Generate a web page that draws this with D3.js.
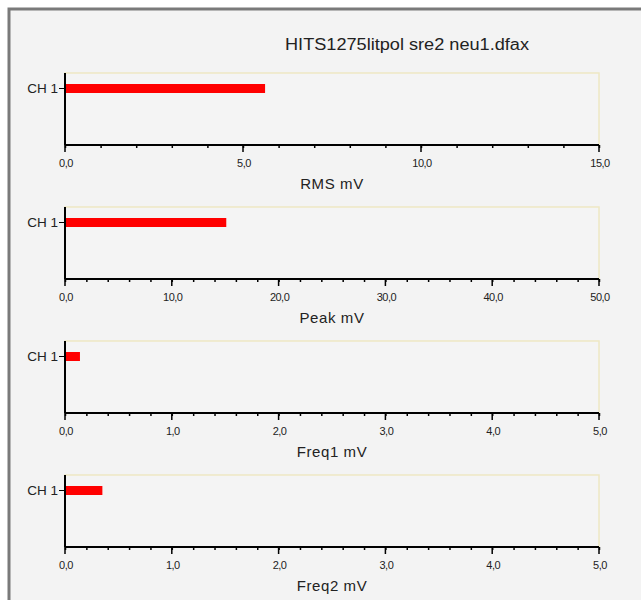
<!DOCTYPE html>
<html><head><meta charset="utf-8">
<script src="https://cdn.jsdelivr.net/npm/d3@7"></script>
<style>body{margin:0;background:#fff}svg{display:block}</style>
</head><body>
<script>
const title = "HITS1275litpol sre2 neu1.dfax";
const categories = ["CH 1"];
const metrics = ["RMS mV", "Peak mV", "Freq1 mV", "Freq2 mV"];
const values = [5.62, 15.1, 0.14, 0.35];
const maxima = [15, 50, 5, 5];
const majorSteps = [5, 10, 1, 1];
const minorSteps = [1, 2, 0.2, 0.2];

const W = 641, H = 600;
const FONT = "Liberation Sans, Arial, sans-serif";
const svg = d3.select("body").append("svg").attr("width", W).attr("height", H);
svg.append("rect").attr("width", W).attr("height", H).attr("fill", "#ffffff");
svg.append("rect").attr("x", 9).attr("y", 9).attr("width", W + 10).attr("height", H + 10)
  .attr("fill", "#f3f3f3").attr("stroke", "#7a7a7a").attr("stroke-width", 3);

svg.append("text").attr("x", 407).attr("y", 50).attr("text-anchor", "middle")
  .attr("font-family", FONT).attr("font-size", 16)
  .attr("fill", "#222").attr("textLength", 244).attr("lengthAdjust", "spacingAndGlyphs").text(title);

const left = 65, right = 599, plotH = 72, tops = [73, 207, 341, 475];
const fmt = v => d3.format(".1f")(v).replace(".", ",");

metrics.forEach((m, i) => {
  const top = tops[i];
  const g = svg.append("g");
  const x = d3.scaleLinear().domain([0, maxima[i]]).range([left, right]);
  const y = d3.scaleBand().domain(categories).range([top + 11, top + 20]).padding(0);
  // frame
  g.append("rect").attr("x", left).attr("y", top).attr("width", right - left).attr("height", plotH)
    .attr("fill", "#f4f4f4").attr("stroke", "#eee8c4").attr("stroke-width", 1.5);
  // bars
  g.selectAll("rect.bar").data([values[i]]).join("rect").attr("class", "bar")
    .attr("x", x(0)).attr("y", y(categories[0]))
    .attr("width", d => x(d) - x(0)).attr("height", y.bandwidth()).attr("fill", "#ff0000");
  // minor ticks
  const minors = d3.range(0, maxima[i] + 1e-9, minorSteps[i]);
  const xa = g.append("g").attr("transform", `translate(0,${top + plotH})`);
  xa.call(d3.axisBottom(x).tickValues(minors).tickSize(3).tickFormat(""));
  const majors = d3.range(0, maxima[i] + 1e-9, majorSteps[i]);
  xa.selectAll(".major").data(majors).join("line").attr("class", "major")
    .attr("x1", d => x(d)).attr("x2", d => x(d)).attr("y1", 0).attr("y2", 7).attr("stroke", "#000").attr("stroke-width", 1.5);
  xa.selectAll(".domain").attr("stroke", "#000").attr("stroke-width", 2).attr("d", `M${left},0H${right}`);
  xa.selectAll(".tick line").attr("stroke", "#000").attr("stroke-width", 1.5);
  xa.selectAll(".lbl").data(majors).join("text").attr("class", "lbl")
    .attr("x", d => x(d) + 1).attr("y", 22).attr("text-anchor", "middle")
    .attr("font-family", FONT).attr("font-size", 11)
    .attr("letter-spacing", -0.5).attr("fill", "#222").text(fmt);
  // y axis
  const ya = g.append("g").attr("transform", `translate(${left},0)`);
  ya.call(d3.axisLeft(y).tickSize(6).tickPadding(1).tickSizeOuter(0));
  ya.select(".domain").attr("stroke", "#000").attr("stroke-width", 2).attr("d", `M0,${top}V${top + plotH}`);
  ya.selectAll(".tick line").attr("stroke", "#000");
  ya.selectAll(".tick text").attr("font-family", FONT)
    .attr("font-size", 13.5).attr("fill", "#222");
  // axis title
  g.append("text").attr("x", 332).attr("y", top + 116).attr("text-anchor", "middle")
    .attr("font-family", FONT).attr("font-size", 15).attr("letter-spacing", 0.6)
    .attr("fill", "#222").text(m);
});
</script>
</body></html>
